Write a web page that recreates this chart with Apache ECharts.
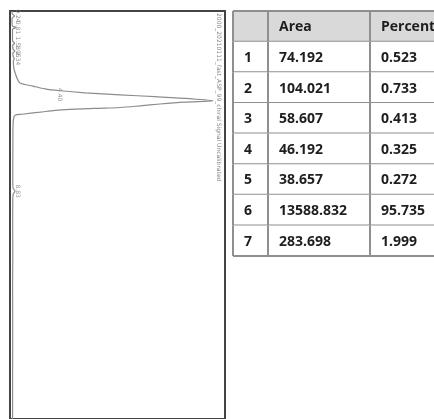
<!DOCTYPE html>
<html>
<head>
<meta charset="utf-8">
<script src="https://cdn.jsdelivr.net/npm/echarts@6/dist/echarts.min.js"></script>
<style>
  html, body { margin: 0; padding: 0; background: #fff; }
  #chart { width: 434px; height: 419px; }
</style>
</head>
<body>
<div id="chart"></div>
<script>
// chromatogram trace (time in min runs downwards, signal to the right)
const times = [0, 0.12, 0.24, 0.36, 0.6, 0.74, 0.81, 0.9, 1.3, 1.48, 1.58, 1.68, 1.86, 1.96, 2.06, 2.22, 2.34,
  2.43, 2.82, 3.10, 3.29, 3.53, 3.68, 3.82, 3.91, 4.01, 4.11, 4.20, 4.30, 4.40, 4.47, 4.56, 4.65, 4.73,
  4.77, 4.82, 4.87, 4.96, 5.06, 5.11, 5.30, 5.68, 6.5, 7.5, 8.5, 8.7, 8.83, 8.96, 9.2, 10.5, 12, 13.5,
  15, 16.5, 18, 20]
const signal = [1.0, 1.0, 2.2, 1.0, 1.0, 1.2, 3.0, 1.2, 1.2, 1.3, 2.2, 1.3, 1.4, 2.3, 1.4, 1.5, 2.1,
  1.6, 1.9, 2.7, 3.4, 4.8, 11.1, 16.9, 24.2, 36.3, 53.2, 70.1, 87.1, 98.2, 84.6, 72.6, 62.9, 53.2,
  41.1, 29.0, 21.8, 14.5, 5.8, 2.4, 1.7, 1.45, 1.4, 1.35, 1.35, 1.6, 2.4, 1.6, 1.35, 1.3, 1.35, 1.25,
  1.3, 1.3, 1.25, 1.25]

// peak table
const peakNo = ['1', '2', '3', '4', '5', '6', '7']
const peakTimes = [0.24, 0.81, 1.58, 1.96, 2.34, 4.40, 8.83]
const areas = [74.192, 104.021, 58.607, 46.192, 38.657, 13588.832, 283.698]
const percents = [0.523, 0.733, 0.413, 0.325, 0.272, 95.735, 1.999]
const headers = ['', 'Area', 'Percent']

const signalTitle = '2000_20210111_fast_ASP_99_chiral Signal Uncalibrated'

const tableRows = [headers].concat(peakNo.map((n, i) => [n, areas[i].toFixed(3), percents[i].toFixed(3)]))

// table styling
const colLines = [35, 137]
const textX = [11, 46, 148]
const lineColor = '#8f8f8f'
const font = 'bold 14px "Open Sans", "DejaVu Sans", sans-serif'

const chart = echarts.init(document.getElementById('chart'))

const renderRow = (params, api) => {
  const i = params.dataIndex
  const cs = params.coordSys
  const c = api.coord([0, i])
  const h = api.size([0, 1])[1]
  const top = c[1] - h / 2
  const children = [
    { type: 'rect', shape: { x: cs.x, y: top, width: cs.width, height: h },
      style: { fill: i === 0 ? '#d9d9d9' : '#fff' } },
    { type: 'line', shape: { x1: cs.x, y1: top + h, x2: cs.x + cs.width, y2: top + h },
      style: { stroke: lineColor, lineWidth: 2 } },
    { type: 'line', shape: { x1: cs.x, y1: top, x2: cs.x, y2: top + h },
      style: { stroke: lineColor, lineWidth: 2 } },
  ]
  if (i === 0) {
    children.push({ type: 'line', shape: { x1: cs.x, y1: top, x2: cs.x + cs.width, y2: top },
      style: { stroke: lineColor, lineWidth: 2 } })
  }
  colLines.forEach(dx => {
    children.push({ type: 'line', shape: { x1: cs.x + dx, y1: top, x2: cs.x + dx, y2: top + h },
      style: { stroke: lineColor, lineWidth: 2 } })
  })
  tableRows[i].forEach((txt, j) => {
    children.push({ type: 'text', x: cs.x + textX[j], y: c[1] + 1,
      style: { text: txt, font: font, fill: '#1e1e1e', textAlign: 'left', textVerticalAlign: 'middle' } })
  })
  return { type: 'group', children }
}

chart.setOption({
  animation: false,
  grid: [
    { left: 10, top: 11, width: 215, height: 419, show: true, borderColor: '#444', borderWidth: 2,
      backgroundColor: '#fff' },
    { left: 233, top: 11, width: 260, height: 245 },
  ],
  xAxis: [
    { gridIndex: 0, type: 'value', min: 0, max: 104, show: false },
    { gridIndex: 1, type: 'value', min: 0, max: 1, show: false },
  ],
  yAxis: [
    { gridIndex: 0, type: 'value', min: 0, max: 20, inverse: true, show: false },
    { gridIndex: 1, type: 'category', inverse: true, show: false, data: tableRows.map((r, i) => String(i)) },
  ],
  series: [
    {
      type: 'line', xAxisIndex: 0, yAxisIndex: 0, symbol: 'none', smooth: 0.3,
      lineStyle: { color: '#8c8c8c', width: 1.2 },
      data: times.map((t, i) => [signal[i], t]),
    },
    {
      // label offsets are in the rotated label frame: [-up, -right]
      type: 'scatter', xAxisIndex: 0, yAxisIndex: 0, symbolSize: 0, silent: true,
      data: peakTimes.map((t, i) => ({
        value: [0, t],
        label: { offset: i === 5 ? [-6, -50] : [0, -8] },
      })),
      label: {
        show: true, position: 'inside', rotate: -90, align: 'center', verticalAlign: 'middle',
        fontSize: 6, color: '#777', fontFamily: 'DejaVu Sans',
        formatter: p => p.value[1].toFixed(2),
      },
    },
    {
      type: 'custom', xAxisIndex: 1, yAxisIndex: 1, renderItem: renderRow, silent: true,
      data: tableRows.map((r, i) => [0, i]),
    },
  ],
  graphic: [
    { type: 'text', x: 222, y: 13, rotation: -Math.PI / 2, silent: true,
      style: { text: signalTitle, font: '6px "DejaVu Sans"', fill: '#888', textAlign: 'left', textVerticalAlign: 'top' } },
  ],
})
</script>
</body>
</html>
